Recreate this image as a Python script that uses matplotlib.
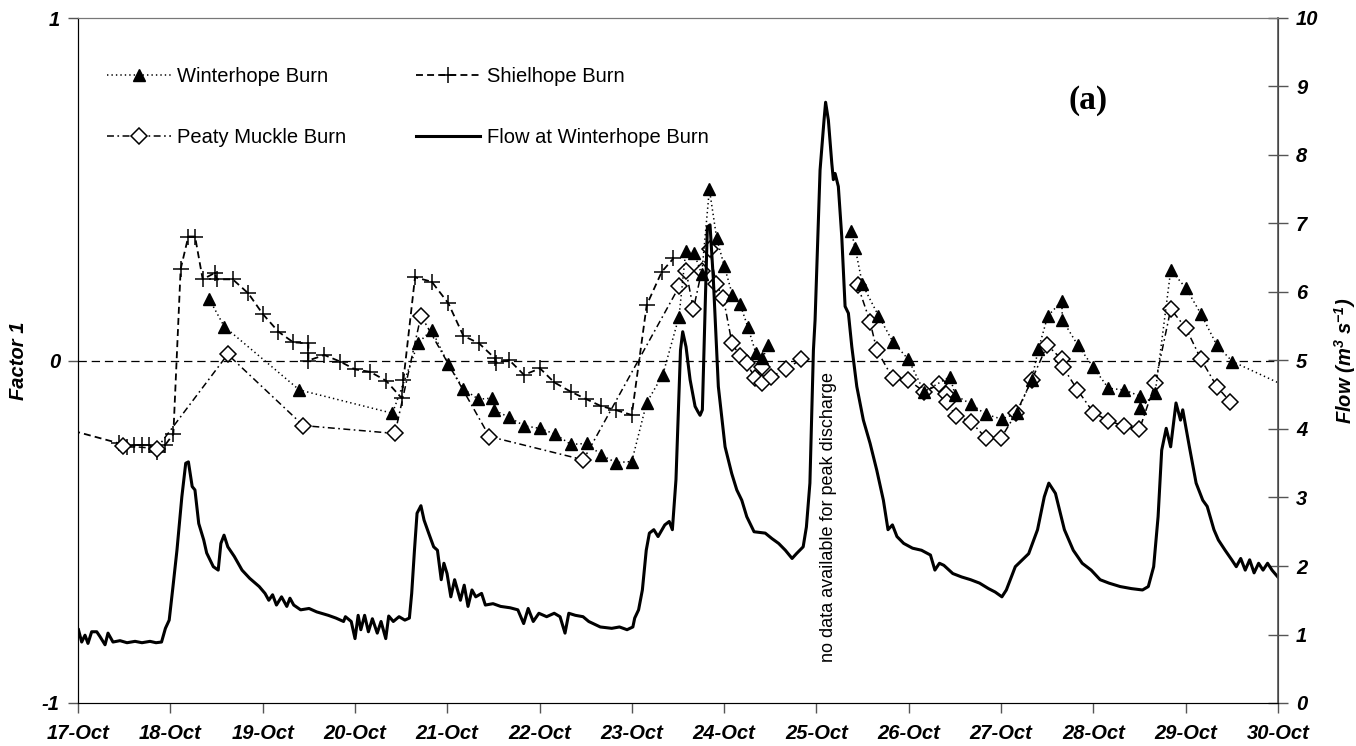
import numpy as np
import matplotlib
matplotlib.use("Agg")
import matplotlib.pyplot as plt

plt.rcParams['font.family'] = ['Liberation Sans', 'DejaVu Sans']
plt.rcParams['lines.scale_dashes'] = False
plt.rcParams['mathtext.fontset'] = 'custom'
plt.rcParams['mathtext.bfit'] = 'Liberation Sans:bold:italic'
plt.rcParams['mathtext.default'] = 'bfit'

# x values are days after 17-Oct
tick_labels = ['17-Oct', '18-Oct', '19-Oct', '20-Oct', '21-Oct', '22-Oct', '23-Oct',
               '24-Oct', '25-Oct', '26-Oct', '27-Oct', '28-Oct', '29-Oct', '30-Oct']

winter_x = [1.420, 1.585, 2.398, 3.406, 3.687, 3.832, 4.012, 4.175, 4.337, 4.482, 4.511,
            4.671, 4.837, 5.000, 5.170, 5.338, 5.518, 5.666, 5.829, 5.999, 6.161, 6.335,
            6.511, 6.584, 6.674, 6.757, 6.840, 6.919, 7.002, 7.089, 7.172, 7.255, 7.342,
            7.415, 7.479, np.nan,
            8.375, 8.419, 8.498, 8.671, 8.827, 8.996, 9.166, 9.447, 9.502, 9.672, 9.834,
            10.007, 10.170, 10.332, 10.404, 10.506, 10.657, 10.665, 10.831, 11.000, 11.163,
            11.333, 11.506, 11.506, 11.669, 11.838, 12.004, 12.167, 12.337, 12.506, 13.5]
winter_y = [0.180, 0.099, -0.086, -0.154, 0.052, 0.089, -0.011, -0.083, -0.113, -0.110, -0.145,
            -0.166, -0.191, -0.198, -0.215, -0.245, -0.242, -0.276, -0.298, -0.295, -0.123, -0.042,
            0.128, 0.320, 0.313, 0.252, 0.500, 0.357, 0.275, 0.192, 0.165, 0.099, 0.023,
            0.006, 0.045, np.nan,
            0.379, 0.329, 0.222, 0.131, 0.055, 0.003, -0.091, -0.047, -0.101, -0.127, -0.157,
            -0.171, -0.154, -0.056, 0.033, 0.130, 0.173, 0.118, 0.045, -0.020, -0.081,
            -0.086, -0.104, -0.140, -0.096, 0.264, 0.211, 0.135, 0.045, -0.003, -0.127]

shiel_x = [-0.4, 0.448, 0.527, 0.607, 0.690, 0.773, 0.859, 0.943, 1.033, 1.112, 1.195, 1.268,
           1.351, 1.484, 1.502, 1.676, 1.845, 2.001, 2.171, 2.333, 2.496, 2.496, 2.496, 2.669,
           2.839, 3.001, 3.164, 3.337, 3.507, 3.525, 3.651, 3.832, 4.012, 4.175, 4.345, 4.518,
           4.530, 4.673, 4.832, 5.005, 5.160, 5.338, 5.500, 5.666, 5.829, 5.999, 6.161, 6.324,
           6.450]
shiel_y = [-0.18, -0.242, -0.252, -0.247, -0.247, -0.247, -0.266, -0.247, -0.215, 0.267, 0.362,
           0.362, 0.237, 0.256, 0.237, 0.237, 0.196, 0.136, 0.084, 0.053, 0.050, 0.021, 0.000,
           0.016, -0.003, -0.026, -0.033, -0.059, -0.110, -0.057, 0.243, 0.230, 0.167, 0.072,
           0.050, 0.006, -0.006, 0.001, -0.042, -0.023, -0.064, -0.091, -0.112, -0.133, -0.145,
           -0.159, 0.162, 0.259, 0.298]

peaty_x = [0.49, 0.852, 1.622, 2.441, 3.434, 3.716, 4.457, 5.475, 6.515, 6.587, 6.667, 6.757,
           6.843, 6.912, 6.992, 7.085, 7.172, 7.245, 7.335, 7.415, 7.415, 7.505, 7.671, 7.833,
           np.nan,
           8.447, 8.581, 8.653, 8.827, 8.996, 9.166, 9.332, 9.400, 9.411, 9.509, 9.675, 9.837,
           9.999, 10.162, 10.332, 10.500, 10.655, 10.672, 10.825, 11.000, 11.163, 11.333,
           11.499, 11.669, 11.838, 12.004, 12.167, 12.337, 12.481]
peaty_y = [-0.249, -0.257, 0.018, -0.190, -0.213, 0.131, -0.222, -0.290, 0.217, 0.262, 0.150,
           0.262, 0.327, 0.223, 0.182, 0.050, 0.013, -0.008, -0.052, -0.018, -0.067, -0.047,
           -0.026, 0.004,
           np.nan,
           0.220, 0.113, 0.031, -0.052, -0.057, -0.091, -0.070, -0.099, -0.120, -0.162, -0.179,
           -0.227, -0.227, -0.154, -0.057, 0.045, 0.004, -0.020, -0.085, -0.152, -0.176, -0.191,
           -0.201, -0.067, 0.150, 0.094, 0.003, -0.076, -0.120]

flow_x = [0.005, 0.040, 0.076, 0.108, 0.148, 0.203, 0.238, 0.293, 0.325, 0.379, 0.455, 0.531,
          0.618, 0.693, 0.780, 0.845, 0.905, 0.947, 0.988, 1.029, 1.072, 1.125, 1.167, 1.196,
          1.237, 1.267, 1.308, 1.362, 1.394, 1.466, 1.519, 1.548, 1.582, 1.623, 1.693, 1.777,
          1.860, 1.963, 2.026, 2.067, 2.108, 2.150, 2.205, 2.262, 2.296, 2.337, 2.412, 2.503,
          2.586, 2.711, 2.794, 2.877, 2.897, 2.960, 3.001, 3.035, 3.064, 3.105, 3.146, 3.189,
          3.242, 3.283, 3.334, 3.366, 3.416, 3.478, 3.541, 3.590, 3.615, 3.645, 3.673, 3.715,
          3.749, 3.799, 3.853, 3.894, 3.935, 3.964, 3.998, 4.039, 4.080, 4.143, 4.184, 4.225,
          4.268, 4.309, 4.372, 4.413, 4.496, 4.579, 4.682, 4.765, 4.828, 4.877, 4.932, 4.993,
          5.077, 5.159, 5.222, 5.276, 5.317, 5.388, 5.471, 5.533, 5.658, 5.782, 5.866, 5.948,
          6.011, 6.031, 6.073, 6.114, 6.156, 6.190, 6.238, 6.284, 6.357, 6.405, 6.439, 6.478,
          6.527, 6.551, 6.587, 6.631, 6.685, 6.717, 6.739, 6.764, 6.793, 6.818, 6.847, 6.883,
          6.937, 7.010, 7.082, 7.137, 7.191, 7.245, 7.324, 7.445, 7.518, 7.590, 7.663, 7.736,
          7.783, 7.856, 7.891, 7.929, 7.967, 7.985, 8.039, 8.082, 8.099, 8.129, 8.166, 8.183,
          8.202, 8.237, 8.274, 8.310, 8.346, 8.383, 8.437, 8.508, 8.581, 8.653, 8.725, 8.775,
          8.823, 8.872, 8.945, 9.041, 9.138, 9.235, 9.283, 9.332, 9.380, 9.477, 9.573, 9.670,
          9.767, 9.864, 9.936, 10.009, 10.057, 10.154, 10.299, 10.395, 10.468, 10.517, 10.589,
          10.686, 10.782, 10.879, 10.976, 11.073, 11.169, 11.290, 11.412, 11.532, 11.595,
          11.653, 11.701, 11.740, 11.789, 11.837, 11.895, 11.944, 11.968, 12.040, 12.113,
          12.185, 12.233, 12.306, 12.354, 12.427, 12.499, 12.548, 12.596, 12.645, 12.693,
          12.741, 12.790, 12.838, 12.887, 12.935, 12.998]
flow_y = [1.07, 0.89, 0.99, 0.87, 1.04, 1.04, 0.97, 0.85, 1.02, 0.89, 0.91, 0.88,
          0.90, 0.88, 0.90, 0.88, 0.89, 1.09, 1.21, 1.70, 2.23, 3.01, 3.50, 3.52,
          3.16, 3.11, 2.62, 2.38, 2.19, 1.99, 1.94, 2.33, 2.45, 2.28, 2.14, 1.94,
          1.82, 1.70, 1.60, 1.50, 1.58, 1.43, 1.55, 1.41, 1.53, 1.43, 1.36, 1.38,
          1.33, 1.28, 1.24, 1.19, 1.26, 1.19, 0.94, 1.28, 1.07, 1.28, 1.04, 1.23,
          1.02, 1.19, 0.94, 1.27, 1.19, 1.26, 1.21, 1.24, 1.60, 2.23, 2.77, 2.88,
          2.67, 2.48, 2.28, 2.23, 1.80, 2.04, 1.89, 1.55, 1.80, 1.50, 1.72, 1.41,
          1.65, 1.55, 1.60, 1.43, 1.45, 1.41, 1.39, 1.36, 1.16, 1.38, 1.19, 1.31,
          1.26, 1.31, 1.26, 1.02, 1.31, 1.28, 1.26, 1.19, 1.11, 1.09, 1.11, 1.07,
          1.11, 1.24, 1.36, 1.65, 2.23, 2.48, 2.53, 2.43, 2.60, 2.65, 2.53, 3.26,
          5.15, 5.42, 5.20, 4.72, 4.33, 4.25, 4.20, 4.28, 5.69, 6.95, 6.98, 6.18,
          4.62, 3.74, 3.35, 3.11, 2.96, 2.72, 2.50, 2.48, 2.40, 2.33, 2.23, 2.11,
          2.18, 2.28, 2.57, 3.21, 5.15, 5.59, 7.78, 8.51, 8.77, 8.51, 7.88, 7.64,
          7.73, 7.54, 6.81, 5.79, 5.69, 5.20, 4.62, 4.13, 3.79, 3.40, 2.96, 2.53,
          2.60, 2.43, 2.33, 2.26, 2.23, 2.16, 1.94, 2.04, 2.01, 1.89, 1.84, 1.80,
          1.75, 1.67, 1.62, 1.55, 1.65, 1.99, 2.18, 2.53, 3.01, 3.21, 3.06,
          2.53, 2.23, 2.04, 1.94, 1.80, 1.75, 1.70, 1.67, 1.65, 1.70,
          1.99, 2.72, 3.69, 4.01, 3.74, 4.38, 4.13, 4.28, 3.74, 3.21,
          2.96, 2.87, 2.53, 2.38, 2.23, 2.09, 1.99, 2.11, 1.94, 2.09,
          1.90, 2.04, 1.94, 2.04, 1.94, 1.84]

fig = plt.figure(figsize=(13.56, 7.46), dpi=100)
ax = fig.add_axes([78 / 1356, 43 / 746, 1200 / 1356, 685 / 746])
ax2 = ax.twinx()

ax.axhline(0, color='black', lw=0.9, dashes=(6, 3.5), zorder=1)

l1, = ax.plot(winter_x, winter_y, color='black', lw=1.1, dashes=(1, 2.2),
              marker='^', ms=8.5, mfc='black', mec='black', label='Winterhope Burn', zorder=4)
l2, = ax.plot(shiel_x, shiel_y, color='black', lw=1.3, dashes=(5, 3),
              marker='+', ms=12, mew=1.1, label='Shielhope Burn', zorder=3)
l3, = ax.plot(peaty_x, peaty_y, color='black', lw=1.1, dashes=(5, 2.5, 1.2, 2.5),
              marker='D', ms=8, mfc='white', mec='black', mew=1.1,
              label='Peaty Muckle Burn', zorder=3)
l4, = ax2.plot(flow_x, flow_y, color='black', lw=2.2, solid_joinstyle='round',
               label='Flow at Winterhope Burn', zorder=2)

ax.set_xlim(0, 13)
ax.set_ylim(-1, 1)
ax2.set_ylim(0, 10)
ax.set_xticks(range(14))
ax.set_xticklabels(tick_labels)
ax.set_yticks([-1, 0, 1])
ax.set_yticklabels(['-1', '0', '1'])
ax2.set_yticks(range(11))

tf = dict(fontsize=14.5, fontweight='bold', fontstyle='italic')
for lab in ax.get_xticklabels() + ax.get_yticklabels() + ax2.get_yticklabels():
    lab.set_fontsize(14.5)
    lab.set_fontweight('bold')
    lab.set_fontstyle('italic')

ax.tick_params(axis='x', direction='out', length=7, width=1, color='#555555', pad=8)
ax.tick_params(axis='y', direction='out', length=7, width=1, color='#555555', pad=6)
ax2.tick_params(axis='y', direction='inout', length=14, width=1, color='#555555', pad=6)

for a in (ax, ax2):
    a.spines['top'].set_color('#777777')
    a.spines['top'].set_linewidth(0.8)
ax.spines['left'].set_color('black')
ax.spines['bottom'].set_color('#555555')
ax2.spines['right'].set_color('#555555')
ax2.spines['right'].set_linewidth(1.2)

ax.set_ylabel('Factor 1', labelpad=10, **tf)
ax2.set_ylabel('Flow (m$^{3}$ s$^{-1}$)', labelpad=10, **tf)

ax.text(0.842, 0.880, '(a)', transform=ax.transAxes, ha='center', va='center',
        fontsize=24, fontweight='bold', family='Liberation Serif')
ax.text(8.13, -0.457, 'no data available for peak discharge', rotation=90,
        ha='center', va='center', fontsize=13)

leg = ax.legend(handles=[l1, l3, l2, l4], ncol=2, frameon=False, loc='upper left',
                bbox_to_anchor=(0.009, 0.955), fontsize=14.5, handlelength=3.2,
                labelspacing=2.1, columnspacing=3.45, handletextpad=0.3, numpoints=1)
leg.set_zorder(10)

fig.savefig('out.png', dpi=100)
